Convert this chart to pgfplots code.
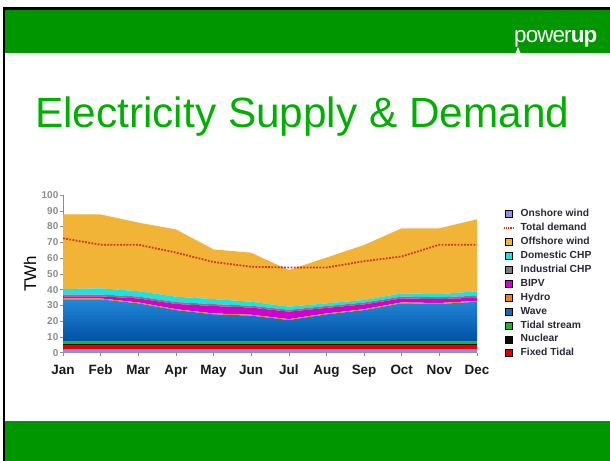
\documentclass[border=0pt]{standalone}
\usepackage{fontspec}
\setmainfont{Liberation Sans}
\usepackage{pgfplots}
\pgfplotsset{compat=1.18}
\definecolor{hdrgreen}{RGB}{0,150,0}
\definecolor{titlegreen}{RGB}{0,176,0}
\definecolor{onshore}{RGB}{140,140,245}
\definecolor{fixedtidal}{RGB}{225,0,0}
\definecolor{nuclear}{RGB}{10,10,10}
\definecolor{tidalstream}{RGB}{30,180,40}
\definecolor{waveTop}{RGB}{35,135,215}
\definecolor{waveBot}{RGB}{0,80,165}
\definecolor{wave}{RGB}{20,105,190}
\definecolor{hydro}{RGB}{240,130,30}
\definecolor{bipv}{RGB}{210,0,210}
\definecolor{indchp}{RGB}{125,125,130}
\definecolor{domchp}{RGB}{30,225,225}
\definecolor{offshore}{RGB}{242,180,55}
\definecolor{demandred}{RGB}{210,55,20}
\definecolor{legtext}{RGB}{40,40,55}
\definecolor{ticktext}{RGB}{140,140,140}

\pgfplotstableread{
m onshore fixed nuclear tidal wave hydro bipv ind dom offshore demand
0  2 3 0.5 1.5 26.8 0.6 1.3 1.2 3.5 47.3 72.5
1  2 3 0.5 1.5 26.8 0.6 1.3 1.2 3.9 46.9 68.5
2  2 3 0.5 1.5 24.3 0.6 2.5 1.2 3.4 43.5 68.5
3  2 3 0.5 1.5 20.0 0.6 3.3 1.2 3.4 42.7 63.5
4  2 3 0.5 1.5 17.3 0.6 4.7 1.2 3.2 31.5 57.5
5  2 3 0.5 1.5 16.5 0.6 4.5 1.2 2.5 31.1 54.5
6  2 3 0.5 1.5 13.7 0.6 4.7 1.2 2.0 23.2 54.0
7  2 3 0.5 1.5 17.3 0.6 3.5 1.2 1.7 29.0 54.0
8  2 3 0.5 1.5 20.0 0.6 3.0 1.2 1.6 34.9 58.0
9  2 3 0.5 1.5 24.3 0.6 2.5 1.2 2.0 41.3 61.0
10 2 3 0.5 1.5 23.9 0.6 2.5 1.2 2.0 41.7 68.5
11 2 3 0.5 1.5 25.3 0.6 2.0 1.2 2.8 45.7 68.5
}\datatable

\begin{document}
\begin{tikzpicture}[x=1bp,y=1bp]
\useasboundingbox (0,0) rectangle (610,461);
\fill[white] (0,0) rectangle (610,461);
\fill[black] (3,0) rectangle (610,454);
\fill[white] (5,0) rectangle (610,451);
\fill[hdrgreen] (5,408) rectangle (610,451);
\fill[hdrgreen] (5,0) rectangle (610,40);
\node[anchor=base west, text=white, inner sep=0, font=\fontsize{22.5}{22.5}\selectfont] at (514,418) {\addfontfeatures{LetterSpace=-4}power\textbf{up}};
\fill[white] (515.5,408) -- (518,414) -- (520.5,408) -- cycle;
\node[anchor=base west, inner sep=0, text=titlegreen, font=\fontsize{42.5}{42.5}\selectfont] at (35,333) {Electricity Supply \& Demand};

\begin{axis}[
  at={(63bp,108.3bp)}, anchor=south west,
  scale only axis, width=414bp, height=157.7bp,
  xmin=0, xmax=11, ymin=0, ymax=100,
  stack plots=y,
  axis lines*=left,
  axis line style={draw=ticktext, line width=0.6bp},
  tick style={draw=ticktext, line width=0.5bp},
  tick align=outside, major tick length=3bp,
  xtick={0,...,11},
  xticklabels={Jan,Feb,Mar,Apr,May,Jun,Jul,Aug,Sep,Oct,Nov,Dec},
  ytick={0,10,...,100},
  /pgf/number format/assume math mode=true,
  yticklabel style={font=\bfseries\fontsize{10}{10}\selectfont, text=ticktext, inner sep=1.5bp},
  xticklabel style={font=\bfseries\fontsize{13.5}{13.5}\selectfont, text=black!90, yshift=-6bp},
  ylabel={TWh},
  ylabel style={font=\fontsize{17}{17}\selectfont, at={(axis description cs:-0.08,0.5)}, anchor=center},
  legend cell align=left,
  legend style={at={(1.055,0.925)}, anchor=north west, draw=none, fill=none,
    font=\bfseries\fontsize{10.3}{10.3}\selectfont, text=legtext,
    row sep=3.6bp,
    nodes={inner sep=0.5bp, text height=7.3bp, text depth=2bp},
    /tikz/every odd column/.append style={column sep=6bp}},
]
\addplot[fill=onshore, draw=none, forget plot] table[x=m,y=onshore]{\datatable} \closedcycle;
\addplot[fill=fixedtidal, draw=none, forget plot] table[x=m,y=fixed]{\datatable} \closedcycle;
\addplot[fill=nuclear, draw=none, forget plot] table[x=m,y=nuclear]{\datatable} \closedcycle;
\addplot[fill=tidalstream, draw=none, forget plot] table[x=m,y=tidal]{\datatable} \closedcycle;
\addplot[top color=waveTop, bottom color=waveBot, draw=none, forget plot] table[x=m,y=wave]{\datatable} \closedcycle;
\addplot[fill=hydro, draw=none, forget plot] table[x=m,y=hydro]{\datatable} \closedcycle;
\addplot[fill=bipv, draw=none, forget plot] table[x=m,y=bipv]{\datatable} \closedcycle;
\addplot[fill=indchp, draw=none, forget plot] table[x=m,y=ind]{\datatable} \closedcycle;
\addplot[fill=domchp, draw=none, forget plot] table[x=m,y=dom]{\datatable} \closedcycle;
\addplot[fill=offshore, draw=none, forget plot] table[x=m,y=offshore]{\datatable} \closedcycle;

\pgfplotsset{sq/.style={legend image code/.code={\fill[##1] (0bp,-3.5bp) rectangle (7bp,3.5bp);}}}
\addlegendimage{sq, fill=onshore}
\addlegendentry{Onshore wind}
\addlegendimage{legend image code/.code={\draw[draw=demandred, line width=1.2bp, dash pattern=on 1.3bp off 1bp] (-2bp,0) -- (8bp,0);}}
\addlegendentry{Total demand}
\addlegendimage{sq, fill=offshore}
\addlegendentry{Offshore wind}
\addlegendimage{sq, fill=domchp}
\addlegendentry{Domestic CHP}
\addlegendimage{sq, fill=indchp}
\addlegendentry{Industrial CHP}
\addlegendimage{sq, fill=bipv}
\addlegendentry{BIPV}
\addlegendimage{sq, fill=hydro}
\addlegendentry{Hydro}
\addlegendimage{sq, fill=wave}
\addlegendentry{Wave}
\addlegendimage{sq, fill=tidalstream}
\addlegendentry{Tidal stream}
\addlegendimage{sq, fill=nuclear}
\addlegendentry{Nuclear}
\addlegendimage{sq, fill=fixedtidal}
\addlegendentry{Fixed Tidal}
\end{axis}

\begin{axis}[
  at={(63bp,108.3bp)}, anchor=south west,
  scale only axis, width=414bp, height=157.7bp,
  xmin=0, xmax=11, ymin=0, ymax=100,
  hide axis,
]
\addplot[draw=demandred, line width=1.8bp, dash pattern=on 1.8bp off 1.4bp] table[x=m,y=demand]{\datatable};
\end{axis}
\end{tikzpicture}
\end{document}
